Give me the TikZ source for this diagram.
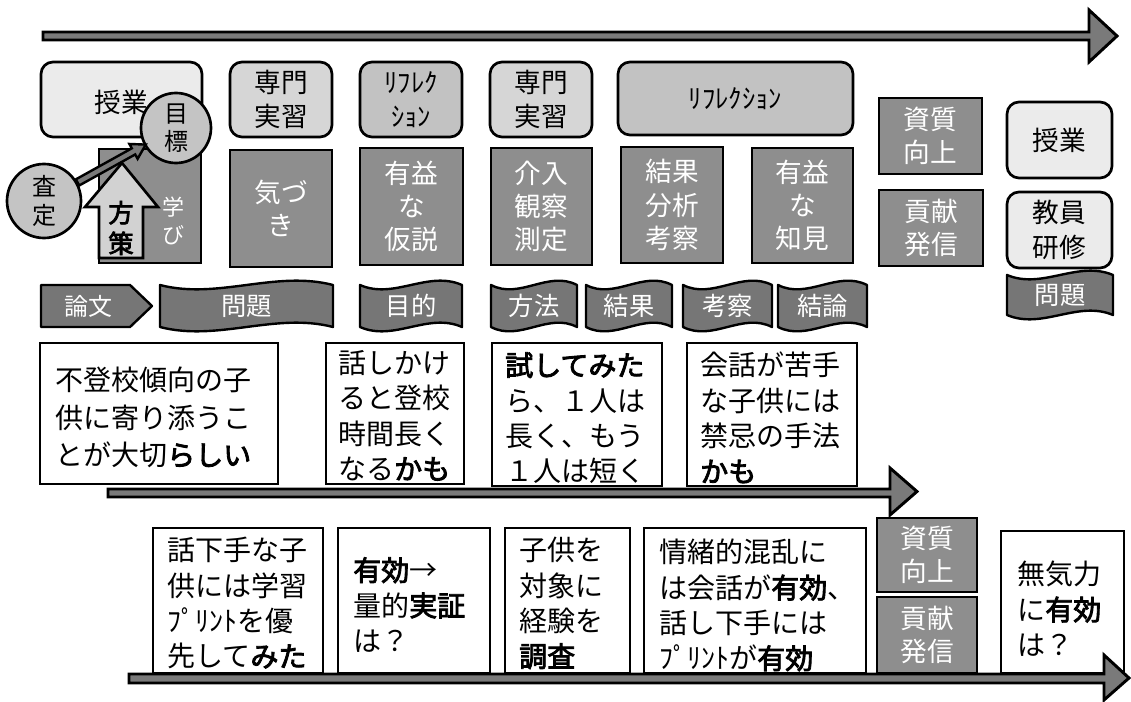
\documentclass[tikz,border=0pt]{standalone}
\usepackage{fontspec}
\newfontfamily\jp[AutoFakeBold=3]{Noto Sans CJK JP}
\usetikzlibrary{fit}
\definecolor{lightbox}{HTML}{EBEBEB}
\definecolor{midbox}{HTML}{D6D6D6}
\definecolor{refbox}{HTML}{C2C2C2}
\definecolor{darkbox}{HTML}{8E8E8E}
\definecolor{banfill}{HTML}{767676}
\definecolor{arrfill}{HTML}{7A7A7A}
\definecolor{circfill}{HTML}{C4C4C4}
\definecolor{upfill}{HTML}{D2D2D2}
\tikzset{
  rbox/.style={draw, line width=2pt, rounded corners=9pt, inner sep=0pt},
  sbox/.style={draw, line width=2pt, inner sep=0pt},
  wbox/.style={sbox, fill=white},
  gbox/.style={sbox, fill=darkbox},
  gtext/.style={text=white, font=\jp\fontsize{20}{25}\selectfont, align=center, inner sep=0pt},
  ktext/.style={text=black, font=\jp\fontsize{20}{26}\selectfont, align=center, inner sep=0pt},
  ptext/.style={text=black, font=\jp\fontsize{21}{26.5}\selectfont, align=left, anchor=north west, inner sep=0pt},
  bantext/.style={text=white, font=\jp\fontsize{19}{22}\selectfont, inner sep=0pt},
  bannerpath/.style={draw, line width=1.8pt, fill=banfill, line join=round},
  bigarrow/.style={draw, line width=2.2pt, fill=arrfill, line join=miter},
  circ/.style={circle, draw, line width=2pt, fill=circfill, inner sep=0pt, align=center, text=black},
}
\newcommand{\wavebanner}[6]{% x0 y0 x1 y1 name text
  \pgfmathsetmacro\bw{(#3-#1)/3}
  \draw[bannerpath] (#1,#2) .. controls +(\bw,15) and +(-\bw,-15) .. (#3,#2)
    -- (#3,#4) .. controls +(-\bw,-15) and +(\bw,15) .. (#1,#4) -- cycle;
  \node[bantext] (#5) at ({(#1+#3)/2},{(#2+#4)/2}) {#6};
}
\begin{document}
\begin{tikzpicture}[x=0.75pt, y=-0.75pt]
\useasboundingbox (0,0) rectangle (1131,702);

% top arrow
\draw[bigarrow] (43,32) -- (1089,32) -- (1089,10) -- (1117,36) -- (1089,62) -- (1089,40) -- (43,40) -- cycle;

% top row boxes
\node[rbox, fill=lightbox, fit={(41,62)(202,137)}] (jugyo1) {};
\node[ktext] (tjugyo1) at (121,102) {授業};
\node[rbox, fill=midbox, fit={(230,62)(332,137)}] (senmon1) {};
\node[ktext] (tsenmon1) at (senmon1.center) {専門\\実習};
\node[rbox, fill=refbox, fit={(360,62)(462,137)}] (refl1) {};
\node[ktext] (trefl1) at (refl1.center) {ﾘﾌﾚｸ\\ｼｮﾝ};
\node[rbox, fill=midbox, fit={(490,62)(592,137)}] (senmon2) {};
\node[ktext] (tsenmon2) at (senmon2.center) {専門\\実習};
\node[rbox, fill=refbox, fit={(618,62)(853,135)}] (refl2) {};
\node[ktext] (trefl2) at (refl2.center) {ﾘﾌﾚｸｼｮﾝ};
\node[gbox, fit={(879,98)(982,174)}] (shishitsu1) {};
\node[gtext] (tshishitsu1) at (shishitsu1.center) {資質\\向上};
\node[gbox, fit={(879,190)(983,266)}] (koken1) {};
\node[gtext] (tkoken1) at (koken1.center) {貢献\\発信};
\node[rbox, fill=lightbox, fit={(1007,102)(1112,178)}] (jugyo2) {};
\node[ktext] (tjugyo2) at (jugyo2.center) {授業};
\node[rbox, fill=lightbox, fit={(1007,192)(1112,268)}] (kenshu) {};
\node[ktext] (tkenshu) at (kenshu.center) {教員\\研修};

% second row gray boxes
\node[gbox, fit={(99,149)(201,263)}] (manabi) {};
\node[gtext, font=\jp\fontsize{16.5}{21}\selectfont] (tmanabi) at (173,221) {学\\び};
\node[gbox, fit={(230,150)(332,267)}] (kizuki) {};
\node[gtext] (tkizuki) at (kizuki.center) {気づ\\き};
\node[gbox, fit={(360,148)(463,265)}] (kasetsu) {};
\node[gtext] (tkasetsu) at (kasetsu.center) {有益\\な\\仮説};
\node[gbox, fit={(491,148)(592,265)}] (kainyu) {};
\node[gtext] (tkainyu) at (kainyu.center) {介入\\観察\\測定};
\node[gbox, fit={(621,147)(723,263)}] (kekka) {};
\node[gtext] (tkekka) at (kekka.center) {結果\\分析\\考察};
\node[gbox, fit={(752,148)(853,263)}] (chiken) {};
\node[gtext] (tchiken) at (chiken.center) {有益\\な\\知見};

% up arrow 方策
\draw[draw, line width=2pt, fill=upfill, line join=miter] (99,258) -- (99,207) -- (85,207) -- (122,163) -- (158,207) -- (143,207) -- (143,258) -- cycle;
\node[text=black, font=\jp\bfseries\fontsize{19}{23}\selectfont, align=center, inner sep=0pt] (hosaku) at (121,228) {方\\策};

% circles and connector
\node[circ, minimum size=55.5pt, font=\jp\fontsize{18}{22}\selectfont] (satei) at (44,201) {査\\定};
\node[circ, minimum size=52.5pt, font=\jp\fontsize{18}{21}\selectfont] (mokuhyo) at (176,128) {目\\標};
\begin{scope}[shift={(satei.29)}, rotate=29]
  \draw[bigarrow, line width=1.8pt] (0,-3.5) -- (64,-3.5) -- (64,-8.5) -- (78,0) -- (64,8.5) -- (64,3.5) -- (0,3.5) -- cycle;
\end{scope}

% banners
\draw[bannerpath] (41,285) -- (130,285) -- (152,306) -- (130,327) -- (41,327) -- cycle;
\node[bantext, font=\jp\fontsize{18}{22}\selectfont] (ronbun) at (88,306) {論文};
\wavebanner{160}{285}{333}{327}{mondai1}{問題}
\wavebanner{360}{285}{462}{327}{mokuteki}{目的}
\wavebanner{491}{285}{577}{327}{hoho}{方法}
\wavebanner{586}{285}{672}{327}{kekkab}{結果}
\wavebanner{683}{285}{772}{327}{kousatsu}{考察}
\wavebanner{778}{285}{867}{327}{ketsuron}{結論}
\wavebanner{1007}{275}{1113}{315}{mondai2}{問題}

% middle row white boxes
\node[wbox, fit={(40,343)(278,484)}] (futoko) {};
\node[ptext, font=\jp\fontsize{21}{28}\selectfont] (tfutoko) at (55,367) {不登校傾向の子\\供に寄り添うこ\\とが大切{\bfseries らしい}};
\node[wbox, fit={(326,343)(464,484)}] (hanashi) {};
\node[ptext] (thanashi) at (338,350) {話しかけ\\ると登校\\時間長く\\なる{\bfseries かも}};
\node[wbox, fit={(492,343)(662,486)}] (tameshi) {};
\node[ptext] (ttameshi) at (505,352) {{\bfseries 試してみた}\\ら、１人は\\長く、もう\\１人は短く};
\node[wbox, fit={(687,343)(857,486)}] (kaiwa) {};
\node[ptext] (tkaiwa) at (700,352) {会話が苦手\\な子供には\\禁忌の手法\\{\bfseries かも}};

% middle arrow
\draw[bigarrow] (108,489) -- (890,489) -- (890,468) -- (917,491.5) -- (890,515) -- (890,497) -- (108,497) -- cycle;

% bottom row
\node[wbox, fit={(153,528)(323,673)}] (hetana) {};
\node[ptext] (thetana) at (167,537) {話下手な子\\供には学習\\ﾌﾟﾘﾝﾄを優\\先して{\bfseries みた}};
\node[wbox, fit={(338,528)(490,673)}] (yuko) {};
\node[ptext] (tyuko) at (353,557) {{\bfseries 有効}→\\量的{\bfseries 実証}\\は？};
\node[wbox, fit={(505,528)(630,673)}] (kodomo) {};
\node[ptext] (tkodomo) at (519,537) {子供を\\対象に\\経験を\\{\bfseries 調査}};
\node[wbox, fit={(644,528)(866,673)}] (jocho) {};
\node[ptext] (tjocho) at (659,539) {情緒的混乱に\\は会話が{\bfseries 有効}、\\話し下手には\\ﾌﾟﾘﾝﾄが{\bfseries 有効}};
\node[gbox, fit={(877,518)(977,592)}] (shishitsu2) {};
\node[gtext] (tshishitsu2) at (shishitsu2.center) {資質\\向上};
\node[gbox, fit={(877,597)(977,673)}] (koken2) {};
\node[gtext] (tkoken2) at (koken2.center) {貢献\\発信};
\node[wbox, fit={(1001,531)(1124,673)}] (mukiryoku) {};
\node[ptext] (tmukiryoku) at (1017,561) {無気力\\に{\bfseries 有効}\\は？};

% bottom arrow
\draw[bigarrow] (129,674) -- (1104,674) -- (1104,655) -- (1129,678) -- (1104,700) -- (1104,683) -- (129,683) -- cycle;
\end{tikzpicture}
\end{document}
